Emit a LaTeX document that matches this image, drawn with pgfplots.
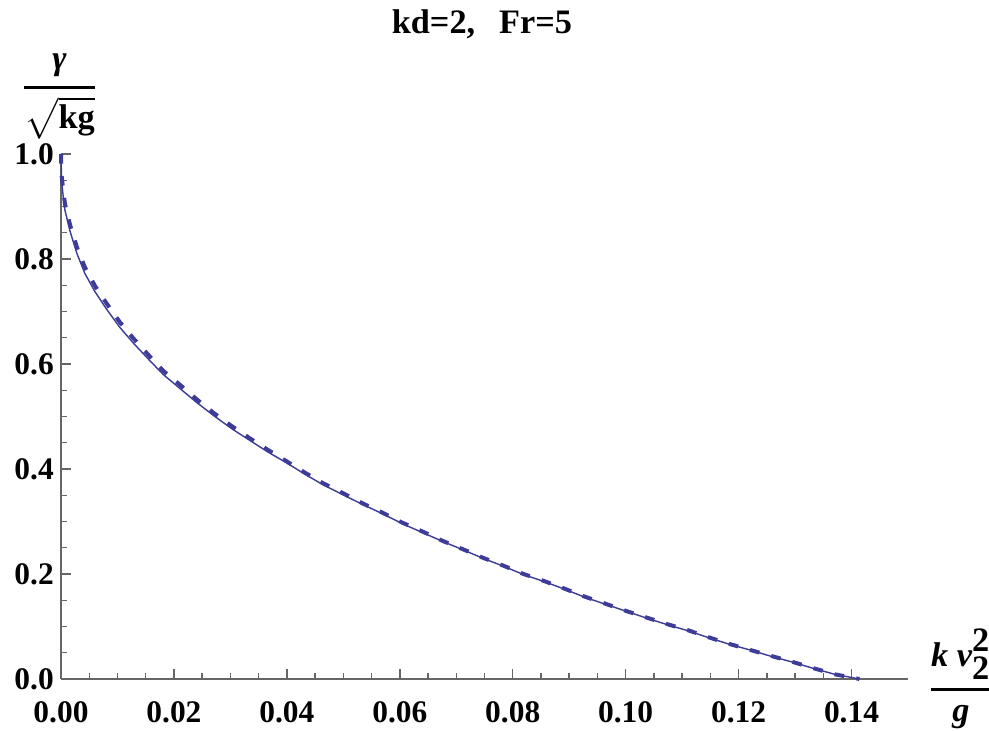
\documentclass[border=0pt]{standalone}
\usepackage{amsmath}
\usepackage{fontspec}
\setmainfont{Liberation Serif}
\usepackage{pgfplots}
\pgfplotsset{compat=1.18}
\definecolor{curve}{rgb}{0.24,0.24,0.6}
\definecolor{axgray}{rgb}{0.4,0.4,0.4}

\begin{document}
\begin{tikzpicture}
\useasboundingbox (-21.35pt,-18.2pt) rectangle (324.8pt,237.65pt);
\begin{axis}[
    at={(0,0)}, anchor=south west,
    scale only axis,
    width=296.45pt, height=183.75pt,
    xmin=0, xmax=0.15, ymin=0, ymax=1.0,
    axis lines=left,
    axis line style={-, axgray, line width=0.6pt},
    xtick={0,0.02,0.04,0.06,0.08,0.10,0.12,0.14},
    ytick={0,0.2,0.4,0.6,0.8,1.0},
    minor x tick num=3, minor y tick num=3,
    tick align=inside,
    major tick length=3.5pt, minor tick length=2.1pt,
    tick style={axgray, line width=0.5pt},
    /pgf/number format/assume math mode=true,
    ticklabel style={font=\fontsize{11}{12}\selectfont\bfseries},
    xticklabel style={yshift=-4.5pt, /pgf/number format/.cd, fixed, fixed zerofill, precision=2},
    yticklabel style={xshift=1pt, /pgf/number format/.cd, fixed, fixed zerofill, precision=1},
    scaled x ticks=false,
    clip=false,
]
% thin solid curve
\addplot[curve, line width=0.5pt] coordinates {
(0,1.0)(0.0001,0.95)(0.0004,0.918)(0.0007,0.893)(0.0016,0.853)(0.0028,0.811)
(0.0042,0.773)(0.0060,0.738)(0.0081,0.704)(0.0104,0.670)(0.0128,0.640)
(0.0155,0.609)(0.0181,0.580)(0.0211,0.553)(0.0240,0.527)(0.0270,0.502)
(0.0302,0.477)(0.0335,0.454)(0.0367,0.432)(0.0399,0.412)(0.0432,0.390)
(0.0464,0.370)(0.0501,0.350)(0.0535,0.332)(0.0569,0.315)(0.0604,0.296)
(0.0640,0.279)(0.0676,0.262)(0.0712,0.246)(0.0747,0.230)(0.0783,0.215)
(0.0819,0.199)(0.0857,0.185)(0.0892,0.171)(0.0927,0.156)(0.0965,0.142)
(0.1001,0.129)(0.1037,0.116)(0.1075,0.103)(0.1110,0.092)(0.1149,0.078)
(0.1184,0.066)(0.1221,0.055)(0.1258,0.043)(0.1296,0.032)(0.1333,0.020)
(0.1370,0.009)(0.1414,0)
};
% thick dashed curve
\addplot[curve, line width=1.4pt, dash pattern=on 3.4pt off 4.3pt] coordinates {
(0,1.0)(0.0001,0.96)(0.0004,0.93)(0.0007,0.905)(0.0016,0.865)(0.0028,0.823)
(0.0042,0.785)(0.0060,0.749)(0.0081,0.715)(0.0104,0.680)(0.0128,0.649)
(0.0155,0.617)(0.0181,0.587)(0.0211,0.560)(0.0240,0.533)(0.0270,0.507)
(0.0302,0.482)(0.0335,0.458)(0.0367,0.436)(0.0399,0.415)(0.0432,0.393)
(0.0464,0.373)(0.0501,0.353)(0.0535,0.334)(0.0569,0.317)(0.0604,0.298)
(0.0640,0.281)(0.0676,0.263)(0.0712,0.247)(0.0747,0.231)(0.0783,0.216)
(0.0819,0.200)(0.0857,0.186)(0.0892,0.172)(0.0927,0.157)(0.0965,0.143)
(0.1001,0.1295)(0.1037,0.117)(0.1075,0.104)(0.1110,0.093)(0.1149,0.0787)
(0.1184,0.0667)(0.1221,0.0552)(0.1258,0.0438)(0.1296,0.0324)(0.1333,0.0204)
(0.1370,0.009)(0.1414,0)
};
% title and axis labels
\node[anchor=base, font=\fontsize{12}{14}\selectfont\bfseries]
    at (rel axis cs:0.497,1) [yshift=42.3pt] {kd=2,\hspace{0.7em}Fr=5};
\node[anchor=center, font=\fontsize{12}{14}\selectfont]
    at (rel axis cs:0,1) [yshift=20pt, xshift=-0.5pt]
    {$\displaystyle\genfrac{}{}{1pt}{}{\mbox{\bfseries\itshape γ}}{\sqrt{\mbox{\bfseries kg}}}$};
\node[anchor=center, font=\fontsize{12}{14}\selectfont]
    at (rel axis cs:1,0) [xshift=18.5pt, yshift=0pt]
    {$\displaystyle\genfrac{}{}{1pt}{}{\mbox{\bfseries\itshape k v}_{\mbox{\bfseries 2}}^{\mbox{\bfseries 2}}}{\mbox{\bfseries\itshape g}}$};
\end{axis}
\end{tikzpicture}
\end{document}
